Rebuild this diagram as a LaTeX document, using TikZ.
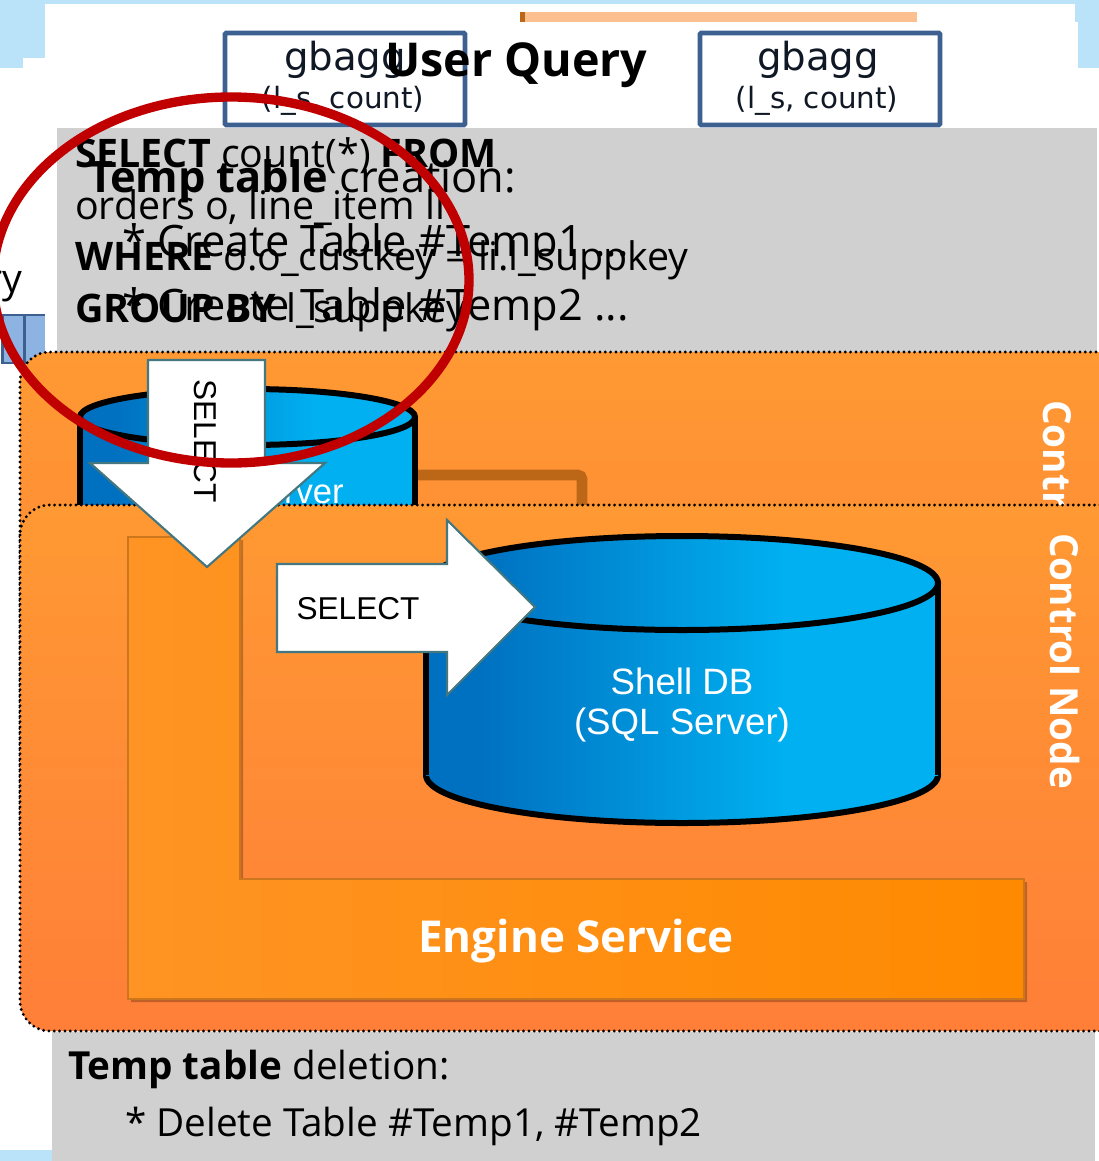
\documentclass[tikz,border=0pt]{standalone}
\usepackage{fontspec}
\setmainfont{Open Sans}
\newfontfamily\arialf{Liberation Sans}
\newfontfamily\boxf{DejaVu Sans}
\usetikzlibrary{calc}
\definecolor{skyb}{HTML}{BAE3F9}
\definecolor{greyb}{HTML}{D0D0D0}
\definecolor{panA}{HTML}{FF9933}
\definecolor{panB}{HTML}{FF7F38}
\definecolor{cylA}{HTML}{0070C0}
\definecolor{cylB}{HTML}{00B0F0}
\definecolor{engA}{HTML}{FF9424}
\definecolor{engB}{HTML}{FF8A00}
\definecolor{navyb}{HTML}{3C6090}
\definecolor{tealb}{HTML}{44777F}
\definecolor{redb}{HTML}{C00000}
\definecolor{brownb}{HTML}{BC6718}
\definecolor{peach}{HTML}{FCC090}
\definecolor{blockb}{HTML}{8DB3E2}
\pgfdeclarehorizontalshading{cylgrad}{100bp}{color(0bp)=(cylA); color(30bp)=(cylA); color(60bp)=(cylB); color(100bp)=(cylB)}
\newcommand{\fsz}[1]{\fontsize{#1}{#1}\selectfont}
\tikzset{
  x=0.75pt,y=-0.75pt,
  txt/.style={anchor=base west,inner sep=0pt,outer sep=0pt,text=black},
  sql/.style={txt,font=\fsz{29.5}},
  tmp/.style={txt,font=\fsz{32.5}},
  dele/.style={txt,font=\fsz{29}},
  panel/.style={rounded corners=22.5pt,draw=black,line width=2.4pt,line cap=round,dash pattern=on 0pt off 4pt,top color=panA,bottom color=panB},
  cylfill/.style={shading=cylgrad},
  cylline/.style={draw=black,line width=4.5pt},
  arrowshape/.style={fill=white,draw=tealb,line width=1.6pt,line join=miter},
  gbox/.style={draw=navyb,line width=3.6pt,fill=white,rounded corners=1pt},
  gtxt/.style={inner sep=0pt,text=black!75!navyb},
  arlabel/.style={inner sep=0pt,font=\arialf\fsz{23.7},text=black},
  whitetxt/.style={inner sep=0pt,text=white},
}
\begin{document}
\begin{tikzpicture}
\clip (0,0) rectangle (1099,1161);
\useasboundingbox (0,0) rectangle (1099,1161);
% background
\fill[white] (0,0) rectangle (1099,1161);
\fill[skyb] (0,0) rectangle (1099,4);
\fill[skyb] (0,0) rectangle (45,58);
\fill[skyb] (0,58) rectangle (23,68);
\fill[skyb] (1075,0) rectangle (1099,22);
\fill[skyb] (1078,22) rectangle (1099,68);
\fill[skyb] (0,1150) rectangle (52,1161);
\fill[peach] (520,12) rectangle (917,22);
\fill[brownb] (520,12) rectangle (525,22);
% left fragments
\begin{scope}
\clip (0,250) rectangle (57,352);
\node[txt,font=\fsz{29.5},anchor=base east] (frag) at (22,292) {ry};
\end{scope}
\node[draw=navyb,fill=blockb,line width=2.2pt,minimum width=17pt,minimum height=36pt,inner sep=0pt] (blockA) at (14,339) {};
\node[draw=navyb,fill=blockb,line width=2.2pt,minimum width=17pt,minimum height=36pt,inner sep=0pt] (blockB) at (36,339) {};
\fill[white] (45,312) rectangle (57,366);
% gbagg boxes
\draw[gbox] (225,33) rectangle (465,125);
\draw[gbox] (700,33) rectangle (940,125);
\node[gtxt,font=\boxf\fsz{29}] (g1) at (345,60) {gbagg};
\node[gtxt,font=\boxf\fsz{22}] (g1s) at (343,101) {(l\_s, count)};
\node[gtxt,font=\boxf\fsz{29}] (g2) at (818,60) {gbagg};
\node[gtxt,font=\boxf\fsz{22}] (g2s) at (817,101) {(l\_s, count)};
\node[txt,font=\bfseries\fsz{35}] (title) at (385,76) {User Query};
% grey panels
\fill[greyb] (57,128) rectangle (1097,352);
\fill[greyb] (52,1032) rectangle (1095,1161);
% SQL text
\node[sql] (s1) at (75,167) {\textbf{SELECT} count(*) \textbf{FROM}};
\node[sql] (s2) at (75,219) {orders o, line\_item li};
\node[sql] (s3) at (75,270) {\textbf{WHERE} o.o\_custkey = li.l\_suppkey};
\node[sql] (s4) at (75,322) {\textbf{GROUP BY} l\_suppkey};
\node[tmp] (t1) at (88,192) {\textbf{Temp table} creation:};
\node[tmp] (t2) at (122,256) {* Create Table \#Temp1 ...};
\node[tmp] (t3) at (122,320) {* Create Table \#Temp2 ...};
% control node back panel
\path[panel] (20,352) rectangle (1135,860);
\node[whitetxt,font=\bfseries\fsz{29},rotate=-90,anchor=west] (cn1) at (1058,400) {Control Node};
% back cylinder
\coordinate (cAeast) at (415,475);
\coordinate (cAjoin) at (582,510);
\draw[brownb,line width=8pt,rounded corners=3pt] (cAeast) -| (cAjoin);
\path[cylfill] (80,417) rectangle (415,520);
\draw[cylline] (80,417) -- (80,520) (415,417) -- (415,520);
\path[cylfill,cylline] (247.5,417) ellipse (167.5 and 28);
\node[whitetxt,font=\arialf\fsz{26},anchor=base east] (cAtext) at (344,503) {SQL Server};
% front control panel
\path[panel] (20,505) rectangle (1135,1031);
\node[whitetxt,font=\bfseries\fsz{29},rotate=-90,anchor=west] (cn2) at (1065,533) {Control Node};
% engine service
\fill[black,opacity=.25] (131,540) -- (243,540) -- (243,882) -- (1027,882) -- (1027,1002) -- (131,1002) -- cycle;
\path[left color=engA,right color=engB,draw=black!20!engA,line width=1pt] (128,537) -- (240,537) -- (240,879) -- (1024,879) -- (1024,999) -- (128,999) -- cycle;
\node[whitetxt,font=\bfseries\fsz{33}] (eng) at (576,941) {Engine Service};
% front cylinder
\path[cylfill,cylline] (682,775) ellipse (256 and 48);
\path[cylfill] (426,583) rectangle (938,775);
\draw[cylline] (426,583) -- (426,775) (938,583) -- (938,775);
\path[cylfill,cylline] (682,583) ellipse (256 and 47);
\node[whitetxt,font=\arialf\fsz{27.5},align=center] (shell) at (682,705) {Shell DB\\[3pt](SQL Server)};
% block arrows
\path[arrowshape] (148,360) -- (265,360) -- (265,463) -- (325,463) -- (207,567) -- (90,463) -- (148,463) -- cycle;
\node[arlabel,rotate=-90] (arD) at (205,441) {SELECT};
\path[arrowshape] (277,564) -- (447,564) -- (447,520) -- (535,607) -- (447,695) -- (447,652) -- (277,652) -- cycle;
\node[arlabel] (arR) at (358,609) {SELECT};
% bottom text
\node[dele] (d1) at (68,1079) {\textbf{Temp table} deletion:};
\node[dele] (d2) at (125,1136) {* Delete Table \#Temp1, \#Temp2};
% red ellipse
\draw[redb,line width=7pt] (231,280) ellipse (238 and 183);
\end{tikzpicture}
\end{document}
